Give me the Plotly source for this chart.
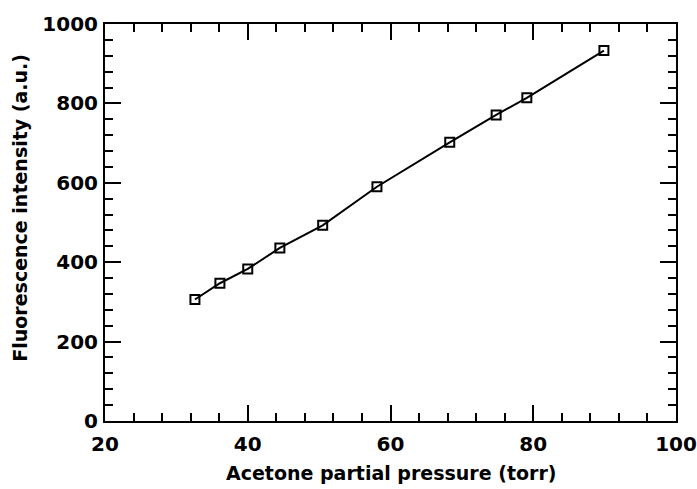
import plotly.graph_objects as go

pressure_torr = [32.6, 36.1, 40.0, 44.5, 50.5, 58.1, 68.3, 74.8, 79.1, 89.9]
fluorescence_au = [306, 347, 383, 436, 493, 590, 702, 771, 814, 933]

x_ticks = [20, 40, 60, 80, 100]
y_ticks = [0, 200, 400, 600, 800, 1000]

x_title = "Acetone partial pressure (torr)"
y_title = "Fluorescence intensity (a.u.)"

FONT = "DejaVu Sans"

fig = go.Figure()
fig.add_trace(go.Scatter(
    x=pressure_torr, y=fluorescence_au,
    mode="lines+markers",
    line=dict(color="black", width=2),
    marker=dict(symbol="square-open", size=9, color="black", line=dict(color="black", width=2)),
    showlegend=False,
))

axis_common = dict(
    showline=True, linecolor="black", linewidth=2, mirror="allticks",
    ticks="inside", ticklen=16, tickwidth=2, tickcolor="black",
    showgrid=False, zeroline=False, automargin=False,
    tickfont=dict(family=FONT, size=20, color="black", weight="bold"),
)

fig.update_xaxes(
    range=[20, 100], tickvals=x_ticks, ticktext=[str(v) for v in x_ticks],
    minor=dict(ticks="inside", dtick=4, tick0=20, ticklen=8, tickwidth=2, tickcolor="black"),
    ticklabelstandoff=4,
    **axis_common,
)
fig.update_yaxes(
    range=[0, 1000], tickvals=y_ticks, ticktext=[str(v) for v in y_ticks],
    minor=dict(ticks="inside", dtick=40, tick0=0, ticklen=8, tickwidth=2, tickcolor="black"),
    ticklabelstandoff=1,
    **axis_common,
)

title_font = dict(family=FONT, size=19, color="black", weight="bold")
fig.add_annotation(text=x_title, xref="paper", yref="paper", x=0.5, y=-0.131,
                   xanchor="center", yanchor="middle", showarrow=False, font=title_font)
fig.add_annotation(text=y_title, xref="paper", yref="paper", x=-0.149, y=0.537,
                   xanchor="center", yanchor="middle", showarrow=False, textangle=-90,
                   font=title_font)

fig.update_layout(
    width=697, height=489,
    margin=dict(l=105, r=21, t=24, b=68),
    paper_bgcolor="white", plot_bgcolor="white",
)

# remove the default page-body margin so the figure fills the window exactly
fig.write_html(
    "out.html",
    config={"displayModeBar": False},
    post_script="document.body.style.margin='0';document.body.style.overflow='hidden';",
)
